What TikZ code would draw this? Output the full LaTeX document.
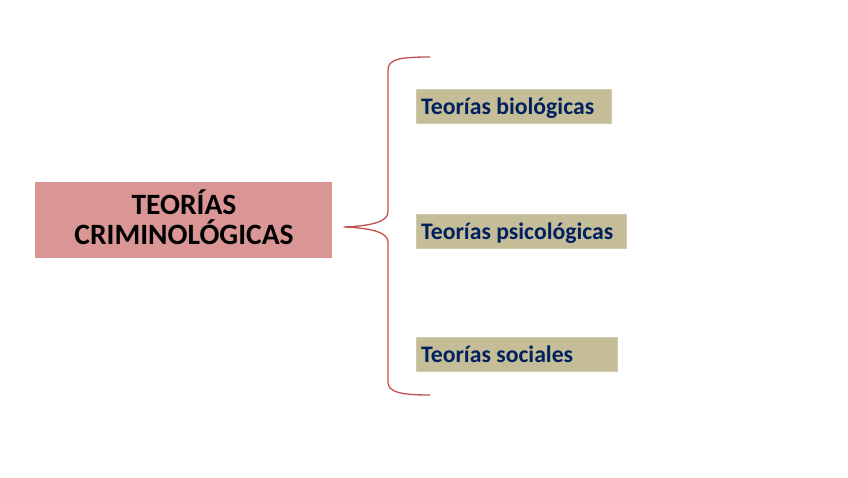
\documentclass[tikz,border=0pt]{standalone}
\usepackage{fontspec}
\setmainfont{Carlito}
\definecolor{pinkbox}{HTML}{D99694}
\definecolor{tanbox}{HTML}{C4BD97}
\definecolor{navytext}{HTML}{002060}
\definecolor{bracered}{HTML}{C0504D}
\tikzset{
  mainbox/.style={fill=pinkbox, draw=none, anchor=north west, inner sep=0pt},
  subbox/.style={fill=tanbox, draw=tanbox!80!white, line width=0.6pt, anchor=north west, inner sep=0pt},
  subtext/.style={font=\bfseries\fontsize{23.7}{28}\selectfont, text=navytext, anchor=base west, inner sep=0pt},
  bracestyle/.style={draw=bracered, line width=1.3pt, line cap=round, line join=round}
}
\begin{document}
\begin{tikzpicture}[x=1pt,y=-1pt]
\useasboundingbox (0,0) rectangle (848,477);
% main box
\node[mainbox, minimum width=297pt, minimum height=76pt] (main) at (35,182) {};
\node[font=\bfseries\fontsize{29.5}{30}\selectfont, align=center, inner sep=0pt] (maintext) at (184,217) {TEORÍAS\\CRIMINOLÓGICAS};
% sub boxes
\node[subbox, minimum width=195pt, minimum height=34pt] (b1) at (416,89) {};
\node[subtext] (t1) at (421,114) {Teorías biológicas};
\node[subbox, minimum width=210pt, minimum height=34pt] (b2) at (416,214) {};
\node[subtext] (t2) at (421,239) {Teorías psicológicas};
\node[subbox, minimum width=201pt, minimum height=34pt] (b3) at (416,337) {};
\node[subtext] (t3) at (421,362) {Teorías sociales};
% brace
\coordinate (top) at (430,57);
\coordinate (tip) at (344,227);
\coordinate (bot) at (430,395);
\draw[bracestyle] (top) .. controls (400,57) and (388,59) .. (388,70)
  -- (388,212) .. controls (388,222) and (370,226) .. (tip)
  .. controls (370,228) and (388,232) .. (388,242)
  -- (388,382) .. controls (388,392) and (400,395) .. (bot);
\end{tikzpicture}
\end{document}
